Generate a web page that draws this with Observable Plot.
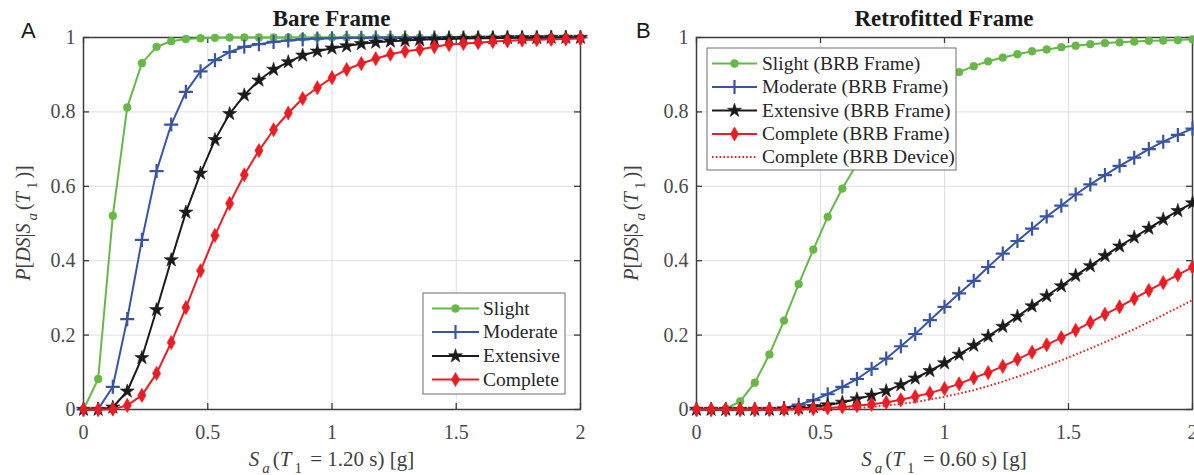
<!DOCTYPE html>
<html>
<head>
<meta charset="utf-8">
<script src="https://cdn.jsdelivr.net/npm/d3@7"></script>
<script src="https://cdn.jsdelivr.net/npm/@observablehq/plot@0.6"></script>
<style>
  body { margin: 0; background: #fff; }
  #wrap { position: relative; width: 1194px; height: 475px; overflow: hidden; background: #fff; }
  #wrap svg { position: absolute; top: 0; overflow: visible; }
</style>
</head>
<body>
<div id="wrap"></div>
<script>
// Spectral acceleration grid (g), 35 evaluation points from 0 to 2
const sa = [0, 0.059, 0.118, 0.176, 0.235, 0.294, 0.353, 0.412, 0.471, 0.529, 0.588, 0.647,
  0.706, 0.765, 0.824, 0.882, 0.941, 1, 1.059, 1.118, 1.176, 1.235, 1.294, 1.353, 1.412,
  1.471, 1.529, 1.588, 1.647, 1.706, 1.765, 1.824, 1.882, 1.941, 2];

// Bare frame fragility curves, P[DS | Sa(T1 = 1.20 s)]
const bareSlight = [0, 0.082, 0.521, 0.812, 0.931, 0.975, 0.990, 0.996, 0.998, 0.999,
  1, 1, 1, 1, 1, 1, 1, 1, 1, 1, 1, 1, 1, 1, 1, 1, 1, 1, 1, 1, 1, 1, 1, 1, 1];
const bareModerate = [0, 0.001, 0.061, 0.243, 0.456, 0.641, 0.766, 0.854, 0.909, 0.939,
  0.961, 0.975, 0.982, 0.988, 0.992, 0.995, 0.997, 0.998, 0.999, 0.999,
  1, 1, 1, 1, 1, 1, 1, 1, 1, 1, 1, 1, 1, 1, 1];
const bareExtensive = [0, 0, 0.006, 0.049, 0.139, 0.268, 0.402, 0.530, 0.635, 0.725,
  0.795, 0.845, 0.885, 0.914, 0.934, 0.952, 0.963, 0.971, 0.977, 0.983, 0.987, 0.990,
  0.992, 0.994, 0.995, 0.996, 0.997, 0.998, 0.998, 0.999, 0.999, 0.999, 1, 1, 1];
const bareComplete = [0, 0, 0.001, 0.011, 0.038, 0.097, 0.180, 0.274, 0.373, 0.468,
  0.554, 0.631, 0.696, 0.752, 0.797, 0.836, 0.865, 0.892, 0.914, 0.930, 0.943, 0.955,
  0.963, 0.968, 0.975, 0.981, 0.984, 0.986, 0.989, 0.991, 0.993, 0.994, 0.995, 0.996, 0.997];

// Retrofitted (BRB) frame fragility curves, P[DS | Sa(T1 = 0.60 s)]
const retroSlight = [0, 0, 0.002, 0.022, 0.072, 0.148, 0.239, 0.337, 0.430, 0.518,
  0.594, 0.660, 0.716, 0.764, 0.805, 0.839, 0.867, 0.889, 0.907, 0.923, 0.936, 0.946,
  0.955, 0.963, 0.968, 0.974, 0.978, 0.982, 0.985, 0.987, 0.989, 0.991, 0.992, 0.993, 0.995];
const retroModerate = [0, 0, 0, 0, 0, 0.001, 0.004, 0.013, 0.025, 0.041,
  0.061, 0.082, 0.109, 0.137, 0.170, 0.203, 0.240, 0.276, 0.312, 0.346, 0.383, 0.419,
  0.453, 0.486, 0.519, 0.548, 0.578, 0.605, 0.630, 0.655, 0.677, 0.700, 0.720, 0.738, 0.755];
const retroExtensive = [0, 0, 0, 0, 0, 0, 0.001, 0.003, 0.007, 0.012,
  0.019, 0.028, 0.038, 0.050, 0.066, 0.084, 0.104, 0.125, 0.148, 0.172, 0.197, 0.223,
  0.250, 0.278, 0.305, 0.332, 0.360, 0.386, 0.413, 0.439, 0.463, 0.487, 0.511, 0.534, 0.555];
const retroComplete = [0, 0, 0, 0, 0, 0, 0, 0.001, 0.002, 0.004,
  0.007, 0.010, 0.014, 0.019, 0.026, 0.035, 0.044, 0.056, 0.069, 0.085, 0.099, 0.116,
  0.135, 0.154, 0.174, 0.193, 0.213, 0.234, 0.256, 0.276, 0.298, 0.320, 0.341, 0.362, 0.383];
const retroDevice = [0, 0, 0, 0, 0, 0, 0, 0, 0, 0.001,
  0.002, 0.004, 0.007, 0.011, 0.015, 0.020, 0.027, 0.034, 0.043, 0.052, 0.063, 0.075,
  0.088, 0.102, 0.117, 0.132, 0.148, 0.164, 0.181, 0.198, 0.216, 0.235, 0.254, 0.274, 0.294];

const xTicks = [0, 0.5, 1, 1.5, 2];
const yTicks = [0, 0.2, 0.4, 0.6, 0.8, 1];

const bareNames = ["Slight", "Moderate", "Extensive", "Complete"];
const retroNames = ["Slight (BRB Frame)", "Moderate (BRB Frame)", "Extensive (BRB Frame)",
  "Complete (BRB Frame)", "Complete (BRB Device)"];

const GREEN = "#66b847", BLUE = "#3854a5", BLACK = "#1b1b1b", RED = "#ec1c24";
const SERIF = "'Liberation Serif', 'Times New Roman', serif";
const SANS = "'Liberation Sans', Arial, sans-serif";
const DOTS = "1.6,2.2";

// marker styles per damage state
const styles = [
  {color: GREEN, symbol: "circle", r: 3.9, filled: true},
  {color: BLUE, symbol: "plus", r: 4.6, filled: false},
  {color: BLACK, symbol: "star", r: 4.4, filled: true},
  {color: RED, symbol: "diamond", r: 4.3, filled: true},
  {color: RED, symbol: null, dashed: true}
];

const rows = (ys) => sa.map((x, i) => ({x, y: ys[i]}));

function seriesMarks(ys, st) {
  const data = rows(ys);
  const marks = [Plot.line(data, {
    x: "x", y: "y", stroke: st.color,
    strokeWidth: 2,
    strokeDasharray: st.dashed ? DOTS : null,
    strokeLinecap: "butt"
  })];
  if (st.symbol) {
    marks.push(Plot.dot(data, {
      x: "x", y: "y", symbol: st.symbol, r: st.r,
      fill: st.filled ? st.color : "none",
      stroke: st.color, strokeWidth: st.filled ? 0.6 : 2.2
    }));
  }
  return marks;
}

function symbolPath(st) {
  const types = {circle: d3.symbolCircle, plus: d3.symbolPlus, star: d3.symbolStar, diamond: d3.symbolDiamond};
  return d3.symbol(types[st.symbol], Math.PI * st.r * st.r)();
}

function addRich(text, parts) {
  for (const p of parts) {
    const t = text.append("tspan").text(p.t);
    if (p.i) t.attr("font-style", "italic");
    if (p.sub) t.attr("font-size", 15).attr("dy", 7).attr("dx", 3);
    if (p.up) t.attr("dy", -7).attr("dx", 3);
  }
}

function panel(opts) {
  const {width, height, ml, mr, mt, mb, series, names, xVal, title, letter, letterX, legend} = opts;
  const fw = width - ml - mr, fh = height - mt - mb;
  const marks = [
    Plot.gridX([0.5, 1, 1.5], {stroke: "#dedede", strokeOpacity: 1, strokeWidth: 1}),
    Plot.gridY([0.2, 0.4, 0.6, 0.8], {stroke: "#dedede", strokeOpacity: 1, strokeWidth: 1}),
    Plot.frame({stroke: "#3c3c3c", strokeWidth: 1.5}),
    Plot.tickX(xTicks, {x: d => d, insetTop: fh - 6, stroke: "#3c3c3c", strokeWidth: 1.3}),
    Plot.tickX(xTicks, {x: d => d, insetBottom: fh - 6, stroke: "#3c3c3c", strokeWidth: 1.3}),
    Plot.tickY(yTicks, {y: d => d, insetRight: fw - 6, stroke: "#3c3c3c", strokeWidth: 1.3}),
    Plot.tickY(yTicks, {y: d => d, insetLeft: fw - 6, stroke: "#3c3c3c", strokeWidth: 1.3}),
    Plot.axisX(xTicks, {tickSize: 0, tickPadding: 15, tickFormat: d => String(d), label: null}),
    Plot.axisY(yTicks, {tickSize: 0, tickPadding: 8, tickFormat: d => String(d), label: null})
  ];
  series.forEach((ys, k) => marks.push(...seriesMarks(ys, styles[k])));

  const svg = Plot.plot({
    width, height,
    marginLeft: ml, marginRight: mr, marginTop: mt, marginBottom: mb,
    x: {domain: [0, 2]},
    y: {domain: [0, 1]},
    style: {fontFamily: SERIF, fontSize: "20px", color: "#4a4a4a", background: "transparent", overflow: "visible"},
    marks
  });

  const s = d3.select(svg);
  const cx = ml + fw / 2;

  // panel title
  s.append("text").attr("x", cx).attr("y", 26).attr("text-anchor", "middle")
    .attr("font-family", SERIF).attr("font-weight", "bold").attr("font-size", 23)
    .attr("fill", "#1a1a1a").text(title);

  // panel letter
  s.append("text").attr("x", letterX).attr("y", 38).attr("text-anchor", "start")
    .attr("font-family", SANS).attr("font-size", 22).attr("fill", "#1a1a1a").text(letter);

  // x axis label: S_a(T_1 = … s) [g]
  const xl = s.append("text").attr("x", cx).attr("y", 466).attr("text-anchor", "middle")
    .attr("font-family", SERIF).attr("font-size", 21).attr("fill", "#404040");
  addRich(xl, [
    {t: "S", i: true}, {t: "a", i: true, sub: true}, {t: "(", up: true},
    {t: "T", i: true}, {t: "1", sub: true}, {t: " = " + xVal + " s) [g]", up: true}
  ]);

  // y axis label: P[DS|S_a(T_1)]
  const yl = s.append("text")
    .attr("transform", `translate(${opts.ylX},${mt + fh / 2}) rotate(-90)`)
    .attr("text-anchor", "middle")
    .attr("font-family", SERIF).attr("font-size", 20).attr("fill", "#404040");
  addRich(yl, [
    {t: "P", i: true}, {t: "["}, {t: "DS", i: true}, {t: "|"}, {t: "S", i: true},
    {t: "a", i: true, sub: true}, {t: "(", up: true}, {t: "T", i: true},
    {t: "1", sub: true}, {t: ")]", up: true}
  ]);

  // legend box
  const lg = legend;
  const g = s.append("g");
  g.append("rect").attr("x", lg.x).attr("y", lg.y).attr("width", lg.w).attr("height", lg.h)
    .attr("fill", "#fff").attr("stroke", "#6e6e6e").attr("stroke-width", 1);
  names.forEach((name, k) => {
    const st = styles[k], yy = lg.rowY[k];
    g.append("line").attr("x1", lg.x0).attr("x2", lg.x1).attr("y1", yy).attr("y2", yy)
      .attr("stroke", st.color).attr("stroke-width", st.dashed ? 2 : 2.2)
      .attr("stroke-dasharray", st.dashed ? DOTS : null);
    if (st.symbol) {
      g.append("path").attr("d", symbolPath(st))
        .attr("transform", `translate(${(lg.x0 + lg.x1) / 2},${yy})`)
        .attr("fill", st.filled ? st.color : "none").attr("stroke", st.color)
        .attr("stroke-width", st.filled ? 0.6 : 2.2);
    }
    g.append("text").attr("x", lg.tx).attr("y", yy).attr("dy", "0.32em").attr("text-anchor", "start")
      .attr("font-family", SERIF).attr("font-size", 19.5).attr("fill", "#262626").text(name);
  });

  svg.style.left = opts.left + "px";
  return svg;
}

const wrap = document.getElementById("wrap");

wrap.appendChild(panel({
  left: 0, width: 597, height: 475, ml: 83, mr: 17, mt: 37, mb: 66,
  series: [bareSlight, bareModerate, bareExtensive, bareComplete],
  names: bareNames, xVal: "1.20", title: "Bare Frame", letter: "A", letterX: 21, ylX: 30,
  legend: {x: 423, y: 293, w: 142, h: 101, x0: 432, x1: 479, tx: 483, rowY: [308.5, 332, 356, 379.5]}
}));

wrap.appendChild(panel({
  left: 597, width: 597, height: 475, ml: 99, mr: 2, mt: 37, mb: 66,
  series: [retroSlight, retroModerate, retroExtensive, retroComplete, retroDevice],
  names: retroNames, xVal: "0.60", title: "Retrofitted Frame", letter: "B", letterX: 39, ylX: 41,
  legend: {x: 110, y: 48, w: 249, h: 122, x0: 115, x1: 160, tx: 165, rowY: [63.5, 87, 110.5, 134, 157]}
}));
</script>
</body>
</html>
